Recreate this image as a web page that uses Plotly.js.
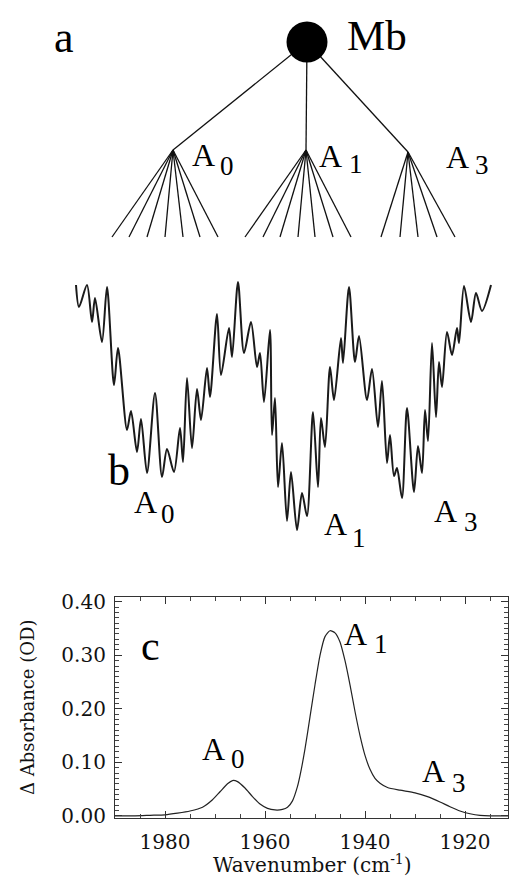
<!DOCTYPE html>
<html>
<head>
<meta charset="utf-8">
<script src="https://cdn.plot.ly/plotly-3.0.1.min.js"></script>
<style>html,body{margin:0;padding:0;background:#fff;}</style>
</head>
<body>
<div id="chart" style="width:510px;height:877px"></div>
<script>
// ---------- Panel a: hierarchy (schematic units = figure pixels) ----------
const rootXY = [307, 42];
const substateNames = ['A0', 'A1', 'A3'];
const apexX = [173, 306, 408];
const apexY = [150, 150, 152];
const fanBottomY = 237;
const fanTipsA0 = [112, 129, 147, 165, 183, 200, 218];
const fanTipsA1 = [245, 263, 280, 298, 315, 333, 351];
const fanTipsA3 = [381, 400, 418, 437, 455];

// ---------- Panel b: rugged energy landscape (local extrema) ----------
const landscapeX = [76,79,87,92,95,102,107,114,118,127,131,137,141,147,155,162,167,174,180,183,187,192,197,201,207,210,217,221,229,232,238,244,251,257,260,264,270,272,275,278,282,287,291,297,302,307,313,318,321,325,330,334,341,343,349,355,359,367,372,378,382,387,390,394,397,402,407,414,418,422,425,428,432,436,439,442,447,452,457,459,464,471,476,482,491];
const landscapeY = [285,307,285,322,298,342,287,385,348,430,411,452,419,473,393,477,449,472,428,462,378,448,389,420,368,397,314,375,328,357,282,353,322,367,353,402,330,435,398,487,443,521,472,530,493,516,412,487,418,447,367,400,338,363,287,362,336,400,369,427,381,463,435,476,468,498,408,492,446,473,410,441,343,417,362,387,332,355,328,343,286,322,293,311,285];

// ---------- Panel c: IR spectrum ----------
const wavenumber = [1990,1986,1983,1980,1977.5,1975,1972.5,1970.5,1969,1967.5,1966.5,1965.5,1964,1962.5,1961,1959.5,1958,1956.5,1955.5,1954.5,1953.5,1953,1952,1951,1950,1949,1948,1947,1946,1945,1944,1943,1942,1941,1940,1939,1938,1937,1935.5,1933,1930,1927.5,1925,1923,1921,1919,1917,1915,1913,1911.4];
const absorbance = [0.000,0.000,0.001,0.002,0.005,0.009,0.016,0.030,0.045,0.060,0.066,0.064,0.052,0.036,0.022,0.014,0.011,0.012,0.016,0.028,0.055,0.075,0.125,0.185,0.245,0.300,0.335,0.346,0.342,0.325,0.290,0.245,0.195,0.150,0.113,0.087,0.070,0.061,0.053,0.048,0.043,0.036,0.026,0.017,0.009,0.004,0.001,0.000,0.000,0.000];
const xTicks = [1980, 1960, 1940, 1920];
const xTitle = 'Wavenumber (cm<sup>-1</sup>)';
const yTitle = 'Δ Absorbance (OD)';

// ---------- build ----------
const W = 510, H = 877;
const fx = p => p / W;
const fy = p => 1 - p / H;

const treeX = [], treeY = [];
apexX.forEach((ax, i) => { treeX.push(rootXY[0], ax, null); treeY.push(rootXY[1], apexY[i], null); });
[fanTipsA0, fanTipsA1, fanTipsA3].forEach((tips, i) => {
  tips.forEach(t => { treeX.push(apexX[i], t, null); treeY.push(apexY[i], fanBottomY, null); });
});

const traces = [
  {x: treeX, y: treeY, xaxis: 'x2', yaxis: 'y2', mode: 'lines', line: {color: '#111', width: 1.3}, hoverinfo: 'skip'},
  {x: [rootXY[0]], y: [rootXY[1]], xaxis: 'x2', yaxis: 'y2', mode: 'markers', marker: {color: '#000', size: 41}, hoverinfo: 'skip'},
  {x: landscapeX, y: landscapeY, xaxis: 'x3', yaxis: 'y3', mode: 'lines', line: {color: '#1a1a1a', width: 2, shape: 'spline', smoothing: 0.8}, hoverinfo: 'skip'},
  {x: wavenumber, y: absorbance, xaxis: 'x', yaxis: 'y', mode: 'lines', line: {color: '#222', width: 1.2, shape: 'spline', smoothing: 0.6}}
];

function txt(s, left, base, size) {
  return {text: s, x: fx(left), y: fy(base - 0.34 * size), xref: 'paper', yref: 'paper',
          xanchor: 'left', yanchor: 'middle', showarrow: false,
          font: {family: 'Liberation Serif', size: size, color: '#000'}};
}
const MAIN = 32, SUB = 27;
const annotations = [
  txt('a', 52, 52, 44),
  txt('Mb', 345, 50, 43),
  // panel a
  txt('A', 190, 166, MAIN), txt('0', 218, 175, SUB),
  txt('A', 317, 167, MAIN), txt('1', 347, 173, SUB),
  txt('A', 444, 168, MAIN), txt('3', 473, 174, SUB),
  // panel b
  txt('b', 106, 485, 44),
  txt('A', 132, 513, MAIN), txt('0', 159, 523, SUB),
  txt('A', 322, 535, MAIN), txt('1', 350, 547, SUB),
  txt('A', 432, 522, MAIN), txt('3', 462, 531, SUB),
  // panel c
  txt('c', 139, 660, 42),
  txt('A', 342, 645, MAIN), txt('1', 372, 653, SUB),
  txt('A', 200, 760, MAIN), txt('0', 229, 768, SUB),
  txt('A', 420, 782, MAIN), txt('3', 450, 792, SUB),
  // axis titles of panel c
  {text: xTitle, x: fx(312), y: fy(864), xref: 'paper', yref: 'paper', xanchor: 'center', yanchor: 'middle',
   showarrow: false, font: {family: 'DejaVu Serif', size: 20, color: '#111'}},
  {text: yTitle, x: fx(27), y: fy(708), xref: 'paper', yref: 'paper', xanchor: 'center', yanchor: 'middle',
   textangle: -90, showarrow: false, font: {family: 'DejaVu Serif', size: 18, color: '#111'}}
];

const tickFont = {family: 'DejaVu Serif', size: 20, color: '#111'};
const layout = {
  width: W, height: H,
  margin: {l: 0, r: 0, t: 0, b: 0},
  paper_bgcolor: '#fff', plot_bgcolor: 'rgba(0,0,0,0)',
  showlegend: false,
  xaxis: {
    domain: [fx(115), fx(508)], range: [1990, 1911.4], anchor: 'y',
    tickvals: xTicks, ticktext: xTicks.map(String),
    ticks: 'inside', ticklen: 7, tickwidth: 1, tickcolor: '#333',
    minor: {dtick: 5, tick0: 1920, ticks: 'inside', ticklen: 4, tickcolor: '#444', tickwidth: 1},
    showline: true, linecolor: '#333', linewidth: 1.2, mirror: 'allticks',
    showgrid: false, zeroline: false, tickfont: tickFont, ticklabelstandoff: 6
  },
  yaxis: {
    domain: [fy(818), fy(597)], range: [-0.004, 0.409], anchor: 'x',
    dtick: 0.1, tick0: 0, tickformat: '.2f',
    ticks: 'inside', ticklen: 7, tickwidth: 1, tickcolor: '#333',
    minor: {dtick: 0.01, ticks: 'inside', ticklen: 3.5, tickcolor: '#444', tickwidth: 1},
    showline: true, linecolor: '#333', linewidth: 1.2, mirror: 'allticks',
    showgrid: false, zeroline: false, tickfont: tickFont, ticklabelstandoff: 4
  },
  xaxis2: {domain: [0, 1], range: [0, W], anchor: 'y2', visible: false, fixedrange: true},
  yaxis2: {domain: [fy(250), 1], range: [250, 0], anchor: 'x2', visible: false, fixedrange: true},
  xaxis3: {domain: [0, 1], range: [0, W], anchor: 'y3', visible: false, fixedrange: true},
  yaxis3: {domain: [fy(560), fy(260)], range: [560, 260], anchor: 'x3', visible: false, fixedrange: true},
  annotations: annotations
};

function draw() { Plotly.newPlot('chart', traces, layout, {displayModeBar: false}); }
if (document.fonts && document.fonts.load) {
  Promise.all([
    document.fonts.load('30px "Liberation Serif"'),
    document.fonts.load('20px "DejaVu Serif"')
  ]).then(draw, draw);
} else { draw(); }
</script>
</body>
</html>
